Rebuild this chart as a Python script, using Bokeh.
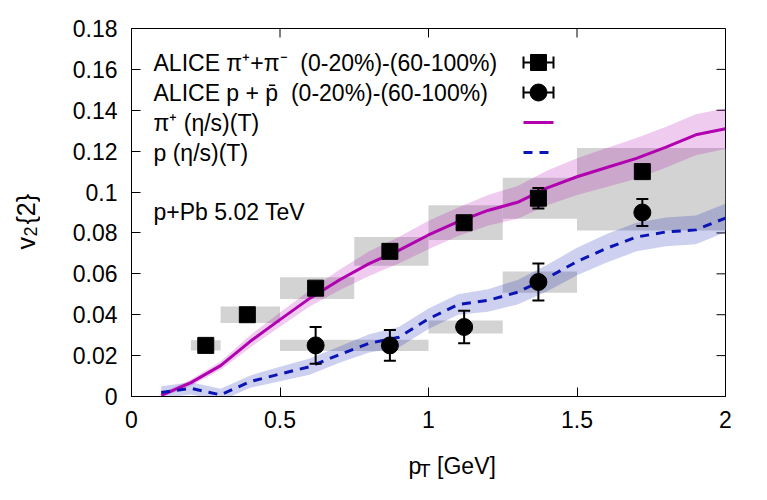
import math

from bokeh.core.properties import value
from bokeh.embed import file_html
from bokeh.layouts import column, row
from bokeh.models import (ColumnDataSource, CustomJSTickFormatter, FixedTicker,
                          Label, Range1d, TeeHead, Whisker)
from bokeh.plotting import figure
from bokeh.resources import INLINE

# ---- ALICE charged pions, v2{2} (0-20%)-(60-100%) ----
pi_pt = [0.25, 0.39, 0.62, 0.87, 1.12, 1.37, 1.72]
pi_v2 = [0.025, 0.040, 0.053, 0.071, 0.085, 0.097, 0.110]
pi_stat = [0.003, 0.002, 0.002, 0.002, 0.002, 0.005, 0.002]
pi_sys = [0.0025, 0.004, 0.0053, 0.007, 0.0085, 0.010, 0.0115]
pi_bin_lo = [0.20, 0.30, 0.50, 0.75, 1.00, 1.25, 1.50]
pi_bin_hi = [0.30, 0.50, 0.75, 1.00, 1.25, 1.50, 2.00]

# ---- ALICE protons + antiprotons ----
pr_pt = [0.62, 0.87, 1.12, 1.37, 1.72]
pr_v2 = [0.025, 0.025, 0.034, 0.056, 0.090]
pr_stat = [0.009, 0.0075, 0.008, 0.009, 0.0066]
pr_sys = [0.0027, 0.0027, 0.0032, 0.0052, 0.0088]
pr_bin_lo = [0.50, 0.75, 1.00, 1.25, 1.50]
pr_bin_hi = [0.75, 1.00, 1.25, 1.50, 2.00]

# ---- hydro calculation with temperature dependent eta/s ----
th_pt = [0.1, 0.2, 0.3, 0.4, 0.5, 0.6, 0.7, 0.8, 0.9, 1.0,
         1.1, 1.2, 1.3, 1.4, 1.5, 1.6, 1.7, 1.8, 1.9, 2.0]
th_pi = [0.0005, 0.0068, 0.0151, 0.0270, 0.0376, 0.0480, 0.0570, 0.0650, 0.0715, 0.0790,
         0.0855, 0.0910, 0.0950, 0.1020, 0.1075, 0.1120, 0.1165, 0.1220, 0.1280, 0.1310]
th_pi_err = [0.001, 0.0015, 0.002, 0.003, 0.0035, 0.004, 0.005, 0.006, 0.0065, 0.007,
             0.007, 0.0075, 0.008, 0.0085, 0.009, 0.0095, 0.010, 0.010, 0.010, 0.010]
th_pr = [0.0020, 0.0040, 0.0008, 0.0073, 0.0110, 0.0146, 0.0205, 0.0260, 0.0290, 0.0380,
         0.0450, 0.0470, 0.0510, 0.0580, 0.0660, 0.0725, 0.0780, 0.0805, 0.0815, 0.0873]
th_pr_err = [0.003, 0.003, 0.003, 0.003, 0.0035, 0.004, 0.004, 0.0045, 0.005, 0.005,
             0.005, 0.0055, 0.006, 0.0065, 0.0067, 0.007, 0.007, 0.007, 0.007, 0.007]

x_ticks = [0, 0.5, 1, 1.5, 2]
y_ticks = [0, 0.02, 0.04, 0.06, 0.08, 0.10, 0.12, 0.14, 0.16, 0.18]
legend_rows = ["ALICE \u03c0\u207a+\u03c0\u207b\u00a0 (0-20%)-(60-100%)",
               "ALICE p + p\u0304\u00a0 (0-20%)-(60-100%)",
               "\u03c0\u207a (\u03b7/s)(T)",
               "p (\u03b7/s)(T)"]
system_label = "p+Pb 5.02 TeV"

FONT = "Liberation Sans"
FS = "23px"
PI_COLOR = "#b000b0"
PR_COLOR = "#0a14b4"
BOX_COLOR = "#d3d3d3"

X0, X1, Y0, Y1 = 0.0, 2.0, 0.0, 0.18
W, H = 767, 500
YT_W = 40            # strip holding the y title
XT_H = 50            # strip holding the x title
LEFT, RIGHT, TOP, BOTTOM = 131 - YT_W, 42, 28, 104 - XT_H
PW, PH = W - YT_W, H - XT_H
FW, FH = PW - LEFT - RIGHT, PH - TOP - BOTTOM


def dx(px):
    """page pixel column -> data x"""
    return X0 + (px - YT_W - LEFT) * (X1 - X0) / FW


def dy(py):
    """page pixel row -> data y"""
    return Y0 + (TOP + FH - py) * (Y1 - Y0) / FH


def label(x, y, text, size=FS, **kw):
    opts = dict(text_font=FONT, text_font_size=size, text_color="black",
                text_align="left", text_baseline="middle")
    opts.update(kw)
    return Label(x=x, y=y, text=text, **opts)


p = figure(width=PW, height=PH, output_backend="svg", toolbar_location=None,
           x_range=Range1d(X0, X1), y_range=Range1d(Y0, Y1),
           min_border_left=LEFT, min_border_right=RIGHT,
           min_border_top=TOP, min_border_bottom=BOTTOM,
           background_fill_color="white", border_fill_color="white")
p.grid.visible = False
p.outline_line_color = "black"
p.outline_line_width = 1

fmt = CustomJSTickFormatter(code="return Number(tick.toFixed(3)).toString();")
for ax, ticks in ((p.xaxis[0], x_ticks), (p.yaxis[0], y_ticks)):
    ax.ticker = FixedTicker(ticks=ticks)
    ax.formatter = fmt
    ax.major_tick_in = 9
    ax.major_tick_out = 0
    ax.minor_tick_line_color = None
    ax.axis_line_color = "black"
    ax.major_tick_line_color = "black"
    ax.major_label_text_font = FONT
    ax.major_label_text_font_size = FS
    ax.major_label_text_color = "black"
p.xaxis.major_label_standoff = 14
p.yaxis.major_label_standoff = 14

# mirrored inward ticks on the top and right edges
p.ray(x=x_ticks, y=[Y1] * len(x_ticks), length=9, length_units="screen",
      angle=-math.pi / 2, line_color="black", line_width=1)
p.ray(x=[X1] * len(y_ticks), y=y_ticks, length=9, length_units="screen",
      angle=math.pi, line_color="black", line_width=1)

# systematic uncertainty boxes
p.quad(left=pi_bin_lo, right=pi_bin_hi,
       bottom=[v - s for v, s in zip(pi_v2, pi_sys)],
       top=[v + s for v, s in zip(pi_v2, pi_sys)],
       fill_color=BOX_COLOR, line_color=None)
p.quad(left=pr_bin_lo, right=pr_bin_hi,
       bottom=[v - s for v, s in zip(pr_v2, pr_sys)],
       top=[v + s for v, s in zip(pr_v2, pr_sys)],
       fill_color=BOX_COLOR, line_color=None)

# theory bands and central lines
p.varea(x=th_pt, y1=[v - e for v, e in zip(th_pi, th_pi_err)],
        y2=[v + e for v, e in zip(th_pi, th_pi_err)], fill_color=PI_COLOR, fill_alpha=0.2)
p.varea(x=th_pt, y1=[v - e for v, e in zip(th_pr, th_pr_err)],
        y2=[v + e for v, e in zip(th_pr, th_pr_err)], fill_color=PR_COLOR, fill_alpha=0.2)
p.line(th_pt, th_pi, line_color=PI_COLOR, line_width=3)
p.line(th_pt, th_pr, line_color=PR_COLOR, line_width=3, line_dash="9 7")

# statistical error bars
for xs, ys, es in ((pi_pt, pi_v2, pi_stat), (pr_pt, pr_v2, pr_stat)):
    src = ColumnDataSource(dict(x=xs, lo=[v - e for v, e in zip(ys, es)],
                                hi=[v + e for v, e in zip(ys, es)]))
    p.add_layout(Whisker(source=src, base="x", lower="lo", upper="hi",
                         line_color="black", line_width=2, level="glyph",
                         lower_head=TeeHead(size=12, line_width=2, line_color="black"),
                         upper_head=TeeHead(size=12, line_width=2, line_color="black")))

p.scatter(pi_pt, pi_v2, marker="square", size=16, fill_color="black", line_color="black")
p.scatter(pr_pt, pr_v2, marker="circle", size=17, fill_color="black", line_color="black")

# legend (text on the left, key on the right)
row_py = [62, 92, 122, 152]
for txt, py in zip(legend_rows, row_py):
    p.add_layout(label(dx(153), dy(py), txt))

key_l, key_r, key_c = dx(523), dx(553), dx(538)
for py, mk, sz in ((row_py[0], "square", 16), (row_py[1], "circle", 17)):
    yk = dy(py)
    p.segment(x0=[key_l], y0=[yk], x1=[key_r], y1=[yk], line_color="black", line_width=2)
    p.segment(x0=[key_l, key_r], y0=[dy(py - 6)] * 2, x1=[key_l, key_r], y1=[dy(py + 6)] * 2,
              line_color="black", line_width=2)
    p.scatter([key_c], [yk], marker=mk, size=sz, fill_color="black", line_color="black")
p.line([key_l, key_r], [dy(row_py[2])] * 2, line_color=PI_COLOR, line_width=3)
p.line([key_l, key_r], [dy(row_py[3])] * 2, line_color=PR_COLOR, line_width=3, line_dash="9 7")

p.add_layout(label(dx(153), dy(211), system_label))


def title_strip(w, h):
    """blank strip, one data unit per pixel, y counted upward from its bottom"""
    f = figure(width=w, height=h, output_backend="svg", toolbar_location=None,
               x_range=Range1d(0, w), y_range=Range1d(0, h),
               x_axis_type=None, y_axis_type=None, min_border=0,
               background_fill_color="white", border_fill_color="white")
    f.grid.visible = False
    f.outline_line_color = None
    return f


# x title: p_T [GeV]
xt = title_strip(PW, XT_H)
xt.text(x=[379 - YT_W, 414 - YT_W], y=[H - 465] * 2, text=["p", "[GeV]"],
        text_font=value(FONT), text_font_size=FS, text_color="black",
        text_align="left", text_baseline="alphabetic")
xt.text(x=[392 - YT_W], y=[H - 470], text=["T"],
        text_font=value(FONT), text_font_size="19px", text_color="black",
        text_align="left", text_baseline="alphabetic")

# y title: v_2{2}, written bottom to top
yt = title_strip(YT_W, H)
yt.text(x=[25, 25], y=[H - 249, H - 224], text=["v", "{2}"], angle=math.pi / 2,
        text_font=value(FONT), text_font_size="25px", text_color="black",
        text_align="left", text_baseline="alphabetic")
yt.text(x=[30], y=[H - 236], text=["2"], angle=math.pi / 2,
        text_font=value(FONT), text_font_size="18px", text_color="black",
        text_align="left", text_baseline="alphabetic")

layout = row(yt, column(p, xt, spacing=0), spacing=0)
open("out.html", "w").write(file_html(layout, INLINE))
